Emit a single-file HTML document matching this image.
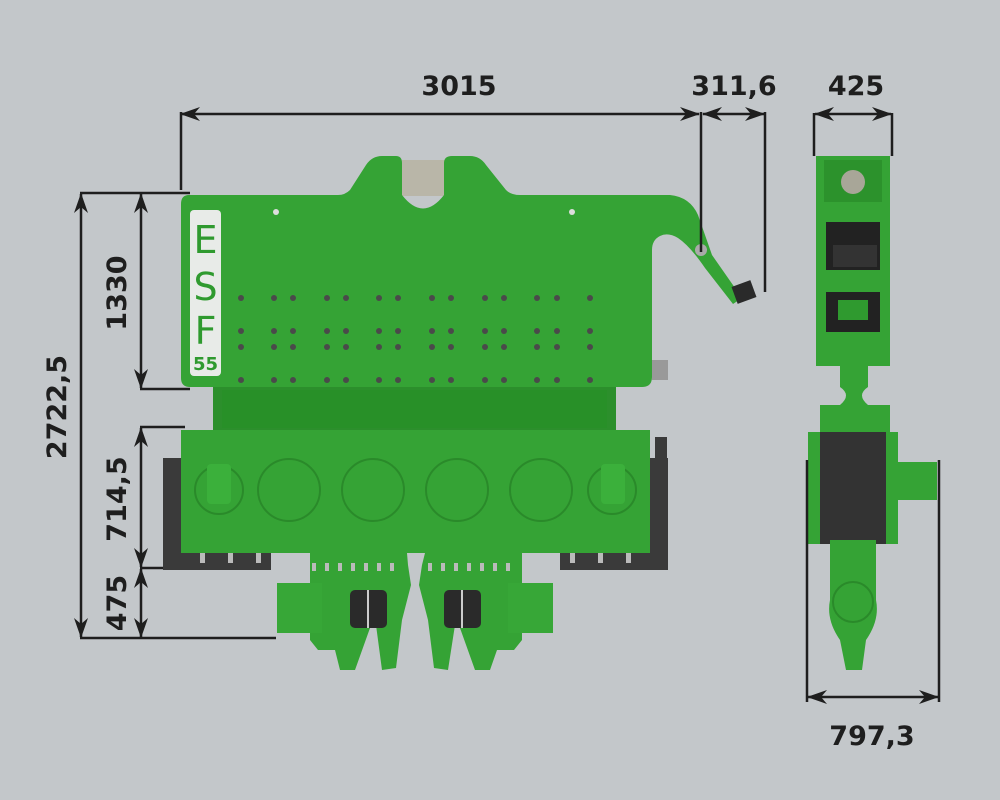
<!DOCTYPE html>
<html><head><meta charset="utf-8"><style>
html,body{margin:0;padding:0;background:#c3c7ca;}
svg{display:block}
text{font-family:"DejaVu Sans","Liberation Sans",sans-serif;font-weight:bold;fill:#1e1e1e;}
</style></head><body>
<svg width="1000" height="800" viewBox="0 0 1000 800" xmlns="http://www.w3.org/2000/svg">
<defs>
<marker id="a" viewBox="0 0 20 14" refX="19" refY="7" markerWidth="20" markerHeight="14" markerUnits="userSpaceOnUse" orient="auto-start-reverse">
<path d="M0,0 L20,7 L0,14 L6,7 Z" fill="#1e1e1e"/></marker>
</defs>
<rect width="1000" height="800" fill="#c3c7ca"/>

<!-- ===== FRONT VIEW ===== -->
<rect x="213" y="384" width="403" height="48" fill="#2c8f2c"/>
<rect x="222" y="390" width="385" height="38" fill="#289028"/>
<rect x="163" y="458" width="108" height="112" fill="#3a3a3a"/>
<rect x="560" y="458" width="108" height="112" fill="#3a3a3a"/>
<rect x="655" y="437" width="12" height="22" fill="#3a3a3a"/>
<rect x="181" y="430" width="469" height="123" fill="#35a335"/>
<g fill="none" stroke="#2a8a2a" stroke-width="2">
<circle cx="289" cy="490" r="31"/><circle cx="373" cy="490" r="31"/><circle cx="457" cy="490" r="31"/><circle cx="541" cy="490" r="31"/>
<circle cx="219" cy="490" r="24"/><circle cx="612" cy="490" r="24"/>
</g>
<rect x="207" y="464" width="24" height="40" rx="4" fill="#3bb03b"/>
<rect x="601" y="464" width="24" height="40" rx="4" fill="#3bb03b"/>
<g fill="#bbb">
<rect x="200" y="553" width="5" height="10"/><rect x="228" y="553" width="5" height="10"/><rect x="256" y="553" width="5" height="10"/>
<rect x="570" y="553" width="5" height="10"/><rect x="598" y="553" width="5" height="10"/><rect x="626" y="553" width="5" height="10"/>
</g>
<path d="M310,553 L407,553 L408,565 L411,585 L402,620 L396,668 L382,670 L376,625 L370,628 L355,670 L340,670 L335,650 L318,650 L310,640 Z" fill="#35a335"/>
<path d="M425,553 L522,553 L522,640 L514,650 L497,650 L490,670 L475,670 L460,628 L455,625 L448,670 L434,668 L428,620 L419,585 L422,565 Z" fill="#35a335"/>
<rect x="277" y="583" width="45" height="50" fill="#37a737"/>
<rect x="508" y="583" width="45" height="50" fill="#37a737"/>
<rect x="350" y="590" width="37" height="38" rx="5" fill="#2a2a2a"/>
<rect x="444" y="590" width="37" height="38" rx="5" fill="#2a2a2a"/>
<line x1="368" y1="590" x2="368" y2="628" stroke="#ccc" stroke-width="2"/>
<line x1="462" y1="590" x2="462" y2="628" stroke="#ccc" stroke-width="2"/>
<g fill="#bbb">
<rect x="312" y="563" width="4" height="8"/><rect x="325" y="563" width="4" height="8"/><rect x="338" y="563" width="4" height="8"/><rect x="351" y="563" width="4" height="8"/><rect x="364" y="563" width="4" height="8"/><rect x="377" y="563" width="4" height="8"/><rect x="390" y="563" width="4" height="8"/>
<rect x="428" y="563" width="4" height="8"/><rect x="441" y="563" width="4" height="8"/><rect x="454" y="563" width="4" height="8"/><rect x="467" y="563" width="4" height="8"/><rect x="480" y="563" width="4" height="8"/><rect x="493" y="563" width="4" height="8"/><rect x="506" y="563" width="4" height="8"/>
</g>

<rect x="402" y="160" width="44" height="36" fill="#b9b6a8"/>
<!-- top plate with hook arm -->
<path d="M189,195 L338,195 Q345,195 350,190 L366,165 Q372,156 382,156 L396,156 Q402,156 402,163 L402,195 Q423,222 444,195 L444,163 Q444,156 452,156 L470,156 Q480,156 486,165 L506,190 Q511,195 520,195 L670,195 Q690,197 698,215 L712,255 L742,298 L733,304 L705,268 Q690,246 678,238 Q668,232 660,236 Q652,240 652,250 L652,377 Q652,387 642,387 L190,387 Q181,387 181,378 L181,204 Q181,195 189,195 Z" fill="#35a335"/>
<rect x="734" y="283" width="20" height="18" fill="#2a2a2a" transform="rotate(-20 744 292)"/>
<circle cx="701" cy="250" r="6" fill="#aaa"/>
<g fill="#4a4a4a">
<g id="hr">
<circle cx="241" cy="298" r="3"/><circle cx="274" cy="298" r="3"/><circle cx="293" cy="298" r="3"/><circle cx="327" cy="298" r="3"/><circle cx="346" cy="298" r="3"/><circle cx="379" cy="298" r="3"/><circle cx="398" cy="298" r="3"/><circle cx="432" cy="298" r="3"/><circle cx="451" cy="298" r="3"/><circle cx="485" cy="298" r="3"/><circle cx="504" cy="298" r="3"/><circle cx="537" cy="298" r="3"/><circle cx="557" cy="298" r="3"/><circle cx="590" cy="298" r="3"/>
</g>
<use href="#hr" y="33"/><use href="#hr" y="49"/><use href="#hr" y="82"/>
</g>
<circle cx="276" cy="212" r="3" fill="#ddd"/><circle cx="572" cy="212" r="3" fill="#ddd"/>
<rect x="652" y="360" width="16" height="20" fill="#999"/>
<rect x="190" y="210" width="31" height="166" rx="4" fill="#e8ebe8"/>
<text x="205.5" y="253" text-anchor="middle" font-size="38" style="fill:#2f9a2f;font-weight:normal">E</text>
<text x="205.5" y="300" text-anchor="middle" font-size="38" style="fill:#2f9a2f;font-weight:normal">S</text>
<text x="205.5" y="344" text-anchor="middle" font-size="38" style="fill:#2f9a2f;font-weight:normal">F</text>
<text x="205.5" y="370" text-anchor="middle" font-size="18" style="fill:#2f9a2f">55</text>

<!-- ===== SIDE VIEW ===== -->
<rect x="816" y="156" width="74" height="210" fill="#35a335"/>
<rect x="824" y="160" width="58" height="42" fill="#2c922c"/>
<circle cx="853" cy="182" r="12" fill="#a8a698"/>
<rect x="826" y="222" width="54" height="48" fill="#222"/>
<rect x="833" y="245" width="44" height="22" fill="#333"/>
<rect x="826" y="292" width="54" height="40" fill="#222"/>
<rect x="838" y="300" width="30" height="20" fill="#2f9a2f"/>
<rect x="840" y="365" width="28" height="22" fill="#35a335"/>
<path d="M840,387 Q852,395 840,405 L868,405 Q856,395 868,387 Z" fill="#35a335"/>
<rect x="820" y="405" width="70" height="30" fill="#35a335"/>
<rect x="808" y="432" width="90" height="112" fill="#35a335"/>
<rect x="820" y="432" width="66" height="112" fill="#333"/>
<rect x="895" y="462" width="42" height="38" fill="#35a335"/>
<path d="M830,540 L876,540 L876,600 Q880,620 866,640 L862,670 L846,670 L840,640 Q826,620 830,600 Z" fill="#35a335"/>
<circle cx="853" cy="602" r="20" fill="none" stroke="#2a8a2a" stroke-width="2"/>

<!-- ===== DIMENSIONS ===== -->
<g stroke="#1e1e1e" stroke-width="2.5" fill="none">
<line x1="181" y1="112" x2="181" y2="190"/>
<line x1="701" y1="112" x2="701" y2="252"/>
<line x1="765" y1="112" x2="765" y2="292"/>
<line x1="181" y1="114" x2="699" y2="114" marker-start="url(#a)" marker-end="url(#a)"/>
<line x1="703" y1="114" x2="764" y2="114" marker-start="url(#a)" marker-end="url(#a)"/>
<line x1="814" y1="113" x2="814" y2="156"/>
<line x1="892" y1="113" x2="892" y2="156"/>
<line x1="815" y1="114" x2="891" y2="114" marker-start="url(#a)" marker-end="url(#a)"/>
<line x1="807" y1="460" x2="807" y2="702"/>
<line x1="939" y1="460" x2="939" y2="702"/>
<line x1="808" y1="697" x2="938" y2="697" marker-start="url(#a)" marker-end="url(#a)"/>
<line x1="80" y1="193" x2="190" y2="193"/>
<line x1="80" y1="638" x2="276" y2="638"/>
<line x1="140" y1="389" x2="190" y2="389"/>
<line x1="140" y1="427" x2="185" y2="427"/>
<line x1="140" y1="568" x2="163" y2="568"/>
<line x1="81" y1="194" x2="81" y2="637" marker-start="url(#a)" marker-end="url(#a)"/>
<line x1="141" y1="194" x2="141" y2="388" marker-start="url(#a)" marker-end="url(#a)"/>
<line x1="141" y1="428" x2="141" y2="567" marker-start="url(#a)" marker-end="url(#a)"/>
<line x1="141" y1="569" x2="141" y2="637" marker-start="url(#a)" marker-end="url(#a)"/>
</g>
<text x="459" y="95" text-anchor="middle" font-size="27">3015</text>
<text x="734" y="95" text-anchor="middle" font-size="27">311,6</text>
<text x="856" y="95" text-anchor="middle" font-size="27">425</text>
<text x="872" y="745" text-anchor="middle" font-size="27">797,3</text>
<text transform="translate(66,407) rotate(-90)" text-anchor="middle" font-size="27">2722,5</text>
<text transform="translate(126,293) rotate(-90)" text-anchor="middle" font-size="27">1330</text>
<text transform="translate(126,499) rotate(-90)" text-anchor="middle" font-size="27">714,5</text>
<text transform="translate(126,603) rotate(-90)" text-anchor="middle" font-size="27">475</text>
</svg>
</body></html>
